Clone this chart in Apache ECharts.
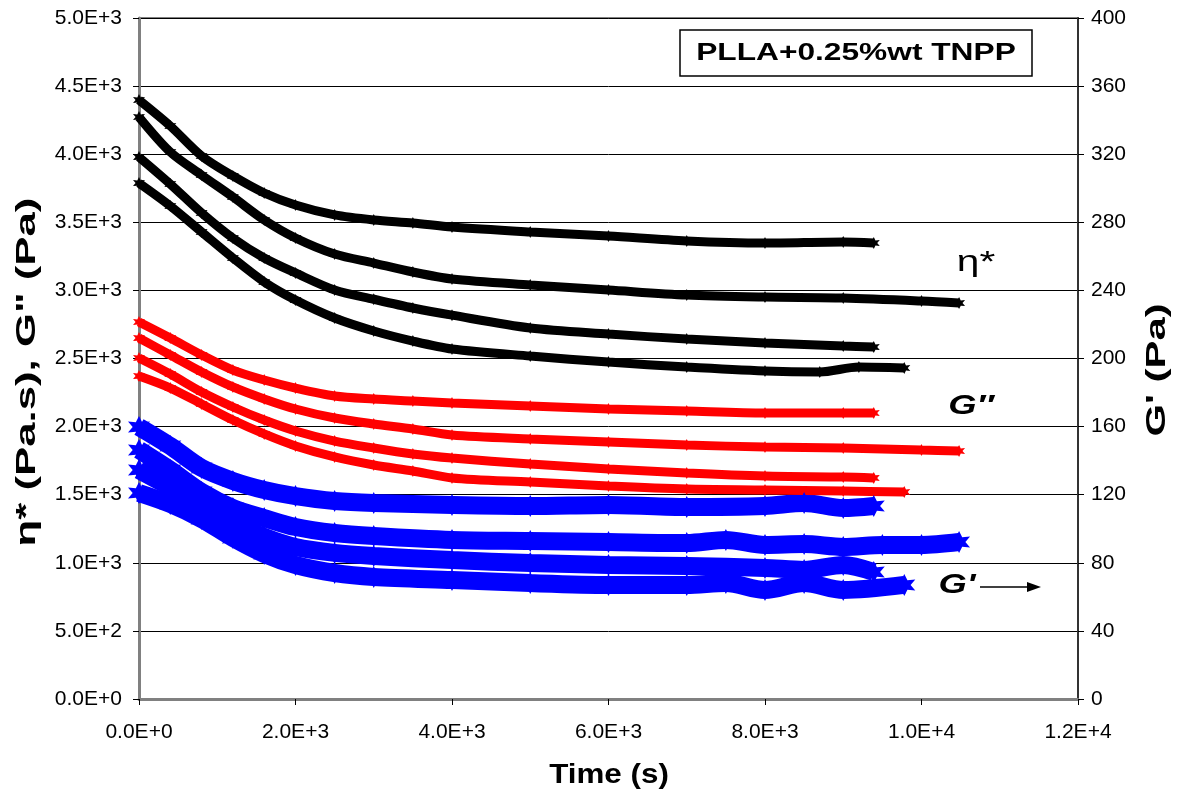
<!DOCTYPE html>
<html>
<head>
<meta charset="utf-8">
<script src="https://cdn.jsdelivr.net/npm/echarts@6/dist/echarts.min.js"></script>
<style>html,body{margin:0;padding:0;background:#fff}#c{width:1181px;height:799px}</style>
</head>
<body>
<div id="c"></div>
<script>
// ---- axis ticks ----
const xTicks = {min: 0, max: 12000, interval: 2000};
const yLeftTicks = {min: 0, max: 5000, interval: 500};
const yRightTicks = {min: 0, max: 400, interval: 40};

// ---- eta* (Pa.s), left axis ----
const etaT1 = [0,400,800,1200,1600,2000,2500,3000,3500,4000,5000,6000,7000,8000,9000,9390];
const etaV1 = [4398,4207,3987,3840,3715,3627,3554,3517,3495,3465,3429,3399,3363,3348,3356,3348];
const etaT2 = [0,400,800,1200,1600,2000,2500,3000,3500,4000,5000,6000,7000,8000,9000,10000,10480];
const etaV2 = [4273,4016,3847,3686,3517,3385,3267,3201,3135,3084,3040,3003,2966,2951,2944,2922,2907];
const etaT3 = [0,400,800,1200,1600,2000,2500,3000,3500,4000,5000,6000,7000,8000,9000,9390];
const etaV3 = [3979,3781,3569,3384,3238,3128,3003,2935,2871,2818,2724,2680,2643,2614,2592,2584];
const etaT4 = [0,400,800,1200,1600,2000,2500,3000,3500,4000,5000,6000,7000,8000,8700,9200,9780];
const etaV4 = [3788,3620,3429,3238,3062,2929,2797,2702,2628,2570,2518,2474,2437,2408,2401,2437,2430];

// ---- G'' (Pa), left axis ----
const gppT1 = [0,400,800,1200,1600,2000,2500,3000,3500,4000,5000,6000,7000,8000,9000,9390];
const gppV1 = [2768,2650,2526,2415,2342,2283,2225,2203,2188,2173,2151,2129,2114,2100,2100,2100];
const gppT2 = [0,400,800,1200,1600,2000,2500,3000,3500,4000,5000,6000,7000,8000,9000,10000,10480];
const gppV2 = [2650,2526,2401,2291,2203,2129,2063,2019,1982,1938,1909,1887,1865,1850,1843,1828,1821];
const gppT3 = [0,400,800,1200,1600,2000,2500,3000,3500,4000,5000,6000,7000,8000,9000,9390];
const gppV3 = [2504,2386,2254,2144,2048,1968,1894,1843,1799,1769,1725,1689,1659,1637,1630,1623];
const gppT4 = [0,400,800,1200,1600,2000,2500,3000,3500,4000,5000,6000,7000,8000,9000,9780];
const gppV4 = [2371,2283,2166,2048,1946,1858,1777,1718,1674,1623,1593,1564,1542,1535,1527,1520];

// ---- G' (Pa), right axis ----
const gpT1 = [0,400,800,1200,1600,2000,2500,3000,4000,5000,6000,7000,8000,8500,9000,9390];
const gpV1 = [159.8,148.6,135.7,128.1,122.8,119.2,116.3,115.1,114.0,113.4,114.0,112.8,113.4,115.1,112.2,113.4];
const gpT2 = [0,400,800,1200,1600,2000,2500,3000,4000,5000,6000,7000,7500,8000,8500,9000,9500,10000,10480];
const gpV2 = [146.3,134.5,121.6,112.2,106.3,101.0,97.5,95.7,93.4,92.8,92.2,91.6,93.4,90.5,91.0,89.3,90.5,90.5,92.2];
const gpT3 = [0,400,800,1200,1600,2000,2500,3000,4000,5000,6000,7000,8000,8500,9000,9390];
const gpV3 = [134.5,124.5,114.0,103.4,95.2,89.3,85.8,84.0,81.6,79.9,78.7,78.1,77.0,75.8,78.7,74.6];
const gpT4 = [0,400,800,1200,1600,2000,2500,3000,4000,5000,6000,7000,7500,8000,8500,9000,9780];
const gpV4 = [121.0,114.5,105.7,94.6,85.2,78.7,74.0,71.7,69.9,68.1,67.0,67.0,68.1,64.0,68.1,64.0,67.0];

// ---- texts ----
const titleText = 'PLLA+0.25%wt TNPP';
const xName = 'Time (s)';
const yLeftName = 'η* (Pa.s), G" (Pa)';
const yRightName = "G' (Pa)";
const labelEta = 'η*';
const labelGpp = 'G″';
const labelGp = "G'";

function pairs(t, v) { return t.map((x, i) => [x, v[i]]); }
function sci(v) {
  if (v === 0) return '0.0E+0';
  const e = Math.floor(Math.log10(v) + 1e-9);
  const m = v / Math.pow(10, e);
  return m.toFixed(1) + 'E+' + e;
}
const STAR = 'path://M0,-10 L2.5,-4.3 L8.7,-5 L5,0 L8.7,5 L2.5,4.3 L0,10 L-2.5,4.3 L-8.7,5 L-5,0 L-8.7,-5 L-2.5,-4.3 Z';

function band(t, v, color, yIdx, lw, ss) {
  return {
    type: 'line', yAxisIndex: yIdx, data: pairs(t, v), smooth: 0.3,
    symbol: STAR, symbolSize: ss, showSymbol: true,
    itemStyle: {color: color}, lineStyle: {color: color, width: lw},
    silent: true, animation: false, z: 3
  };
}

const FF = 'Liberation Sans, Arial, sans-serif';
const chart = echarts.init(document.getElementById('c'), null, {renderer: 'canvas'});
chart.setOption({
  animation: false,
  grid: {left: 139, right: 103, top: 18, bottom: 100, show: true, borderColor: '#808080', borderWidth: 2},
  xAxis: {
    type: 'value', min: xTicks.min, max: xTicks.max, interval: xTicks.interval,
    axisLine: {show: true, onZero: false, lineStyle: {color: '#808080', width: 3}},
    axisTick: {show: true, inside: false, length: 6, lineStyle: {color: '#000', width: 1}},
    axisLabel: {formatter: sci, fontFamily: FF, fontSize: 21, color: '#000', margin: 23},
    splitLine: {show: false}
  },
  yAxis: [{
    type: 'value', position: 'left', min: yLeftTicks.min, max: yLeftTicks.max, interval: yLeftTicks.interval,
    axisLine: {show: true, lineStyle: {color: '#808080', width: 3}},
    axisTick: {show: true, inside: false, length: 6, lineStyle: {color: '#000', width: 1}},
    axisLabel: {formatter: sci, fontFamily: FF, fontSize: 21, color: '#000', margin: 17},
    splitLine: {show: true, lineStyle: {color: '#000', width: 1}}
  }, {
    type: 'value', position: 'right', min: yRightTicks.min, max: yRightTicks.max, interval: yRightTicks.interval,
    axisLine: {show: true, lineStyle: {color: '#333', width: 2}},
    axisTick: {show: true, inside: false, length: 6, lineStyle: {color: '#000', width: 1}},
    axisLabel: {fontFamily: FF, fontSize: 21, color: '#000', margin: 13},
    splitLine: {show: false}
  }],
  graphic: [
    {type: 'rect', shape: {x: 680, y: 30, width: 352, height: 46}, style: {fill: '#fff', stroke: '#000', lineWidth: 1.5}, z: 10},
    {type: 'text', x: 856, y: 53, scaleX: 1.32, style: {text: titleText, font: 'bold 24px ' + FF, fill: '#000', textAlign: 'center', textVerticalAlign: 'middle'}, z: 11},
    {type: 'text', x: 609, y: 775, scaleX: 1.12, style: {text: xName, font: 'bold 28px ' + FF, fill: '#000', textAlign: 'center', textVerticalAlign: 'middle'}, z: 11},
    {type: 'text', x: 28, y: 372, rotation: Math.PI / 2, scaleX: 1.62, style: {text: yLeftName, font: 'bold 27px ' + FF, fill: '#000', textAlign: 'center', textVerticalAlign: 'middle'}, z: 11},
    {type: 'text', x: 1158, y: 370, rotation: Math.PI / 2, scaleX: 1.55, style: {text: yRightName, font: 'bold 27px ' + FF, fill: '#000', textAlign: 'center', textVerticalAlign: 'middle'}, z: 11},
    {type: 'text', x: 976, y: 263, scaleX: 1.4, style: {text: labelEta, font: '29px ' + FF, fill: '#000', textAlign: 'center', textVerticalAlign: 'middle'}, z: 11},
    {type: 'text', x: 971, y: 406, scaleX: 1.3, style: {text: labelGpp, font: 'italic bold 28px ' + FF, fill: '#000', textAlign: 'center', textVerticalAlign: 'middle'}, z: 11},
    {type: 'text', x: 957, y: 585, scaleX: 1.3, style: {text: labelGp, font: 'italic bold 28px ' + FF, fill: '#000', textAlign: 'center', textVerticalAlign: 'middle'}, z: 11},
    {type: 'line', shape: {x1: 980, y1: 587, x2: 1030, y2: 587}, style: {stroke: '#000', lineWidth: 1.5}, z: 11},
    {type: 'polygon', shape: {points: [[1041, 587], [1027, 582], [1027, 592]]}, style: {fill: '#000'}, z: 11}
  ],
  series: [
    band(gpT1, gpV1, '#0000ff', 1, 18, 22),
    band(gpT2, gpV2, '#0000ff', 1, 18, 22),
    band(gpT3, gpV3, '#0000ff', 1, 18, 22),
    band(gpT4, gpV4, '#0000ff', 1, 18, 22),
    band(gppT1, gppV1, '#ff0000', 0, 9, 12),
    band(gppT2, gppV2, '#ff0000', 0, 9, 12),
    band(gppT3, gppV3, '#ff0000', 0, 9, 12),
    band(gppT4, gppV4, '#ff0000', 0, 9, 12),
    band(etaT1, etaV1, '#000000', 0, 9, 12),
    band(etaT2, etaV2, '#000000', 0, 9, 12),
    band(etaT3, etaV3, '#000000', 0, 9, 12),
    band(etaT4, etaV4, '#000000', 0, 9, 12)
  ]
});
</script>
</body>
</html>
